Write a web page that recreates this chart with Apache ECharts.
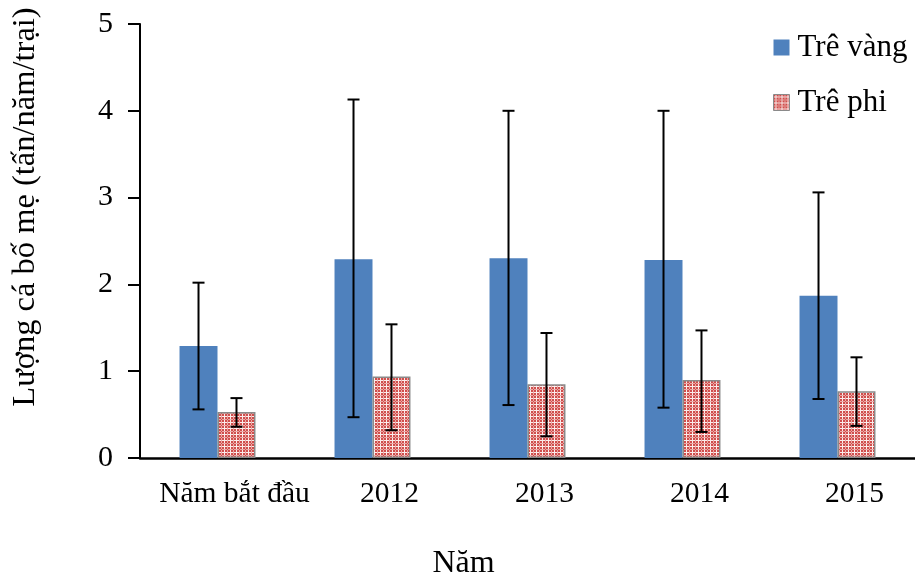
<!DOCTYPE html>
<html><head><meta charset="utf-8">
<script src="https://cdn.jsdelivr.net/npm/echarts@6/dist/echarts.min.js"></script>
<style>html,body{margin:0;padding:0;background:#fff}#c{width:915px;height:577px}</style>
</head><body><div id="c"></div>
<script>
const categories = ['Năm bắt đầu', '2012', '2013', '2014', '2015'];
const seriesNames = ['Trê vàng', 'Trê phi'];
const vangValues = [1.29, 2.29, 2.30, 2.28, 1.87];
const vangLow = [0.56, 0.47, 0.61, 0.58, 0.68];
const vangHigh = [2.02, 4.13, 4.00, 4.00, 3.06];
const phiValues = [0.53, 0.94, 0.85, 0.90, 0.77];
const phiLow = [0.36, 0.32, 0.25, 0.30, 0.37];
const phiHigh = [0.69, 1.54, 1.44, 1.47, 1.16];
const yTicks = [0, 1, 2, 3, 4, 5];

const FONT = '"Liberation Serif", "Times New Roman", serif';
const BAR_FRAC = 0.245;

function makePattern() {
  const c = document.createElement('canvas');
  c.width = 6; c.height = 6;
  const g = c.getContext('2d');
  g.fillStyle = '#D04E4C';
  g.fillRect(0, 0, 6, 6);
  g.fillStyle = '#FBEDEC';
  g.fillRect(2, 0, 1, 6);
  g.fillRect(0, 2, 6, 1);
  g.fillStyle = '#EAA9A7';
  g.fillRect(5, 0, 1, 6);
  g.fillRect(0, 5, 6, 1);
  g.fillStyle = '#D04E4C';
  g.fillRect(5, 5, 1, 1);
  return c;
}
const pat = { image: makePattern(), repeat: 'repeat' };

function errSeries(low, high, side) {
  return {
    type: 'custom',
    silent: true,
    z: 10,
    data: categories.map((c, i) => [i, low[i], high[i]]),
    renderItem: function (params, api) {
      const i = api.value(0);
      const band = api.size([1, 0])[0];
      const off = side * band * BAR_FRAC / 2;
      const p1 = api.coord([i, api.value(1)]);
      const p2 = api.coord([i, api.value(2)]);
      const x = p1[0] + off;
      const cap = 6;
      const st = { stroke: '#000', lineWidth: 2 };
      return {
        type: 'group',
        children: [
          { type: 'line', shape: { x1: x, y1: p1[1], x2: x, y2: p2[1] }, style: st },
          { type: 'line', shape: { x1: x - cap, y1: p1[1], x2: x + cap, y2: p1[1] }, style: st },
          { type: 'line', shape: { x1: x - cap, y1: p2[1], x2: x + cap, y2: p2[1] }, style: st }
        ]
      };
    }
  };
}

const chart = echarts.init(document.getElementById('c'));
chart.setOption({
  animation: false,
  textStyle: { fontFamily: FONT },
  grid: { left: 140, right: 0, top: 24, bottom: 119, containLabel: false, outerBoundsMode: 'none' },
  legend: {
    orient: 'vertical',
    left: 768, top: 27,
    itemWidth: 16, itemHeight: 16, itemGap: 24,
    textStyle: { fontFamily: FONT, fontSize: 31, color: '#000', padding: [0, 0, 0, 3] },
    data: [
      { name: seriesNames[0], icon: 'rect' },
      { name: seriesNames[1], icon: 'rect', itemStyle: { color: pat, borderColor: '#8a8a8a', borderWidth: 1 } }
    ]
  },
  xAxis: {
    type: 'category',
    data: categories,
    name: 'Năm',
    nameLocation: 'middle',
    nameGap: 90,
    nameTextStyle: { fontFamily: FONT, fontSize: 32, color: '#000', padding: [0, 128, 0, 0] },
    axisLine: { lineStyle: { color: '#000', width: 2.5 } },
    axisTick: { show: false },
    axisLabel: { fontFamily: FONT, fontSize: 29.5, color: '#000', margin: 21, padding: [0, 0, 0, 34], interval: 0 }
  },
  yAxis: {
    type: 'value',
    min: 0, max: 5, interval: 1,
    name: 'Lượng cá bố mẹ (tấn/năm/trại)',
    nameLocation: 'middle',
    nameGap: 98,
    nameTextStyle: { fontFamily: FONT, fontSize: 32.5, color: '#000', padding: [0, 0, 0, 68] },
    axisLine: { show: true, lineStyle: { color: '#000', width: 2 } },
    axisTick: { show: true, length: 12, lineStyle: { color: '#000', width: 2 } },
    splitLine: { show: false },
    axisLabel: { fontFamily: FONT, fontSize: 30, color: '#000', margin: 27,
      formatter: v => yTicks.includes(v) ? String(v) : '' }
  },
  series: [
    { name: seriesNames[0], type: 'bar', data: vangValues, barWidth: (BAR_FRAC * 100) + '%', barGap: '0%',
      itemStyle: { color: '#4F81BD' } },
    { name: seriesNames[1], type: 'bar', data: phiValues, barWidth: (BAR_FRAC * 100) + '%', barGap: '0%',
      itemStyle: { color: pat, borderColor: '#8a8a8a', borderWidth: 1.5 } },
    errSeries(vangLow, vangHigh, -1),
    errSeries(phiLow, phiHigh, 1)
  ]
});
</script></body></html>
